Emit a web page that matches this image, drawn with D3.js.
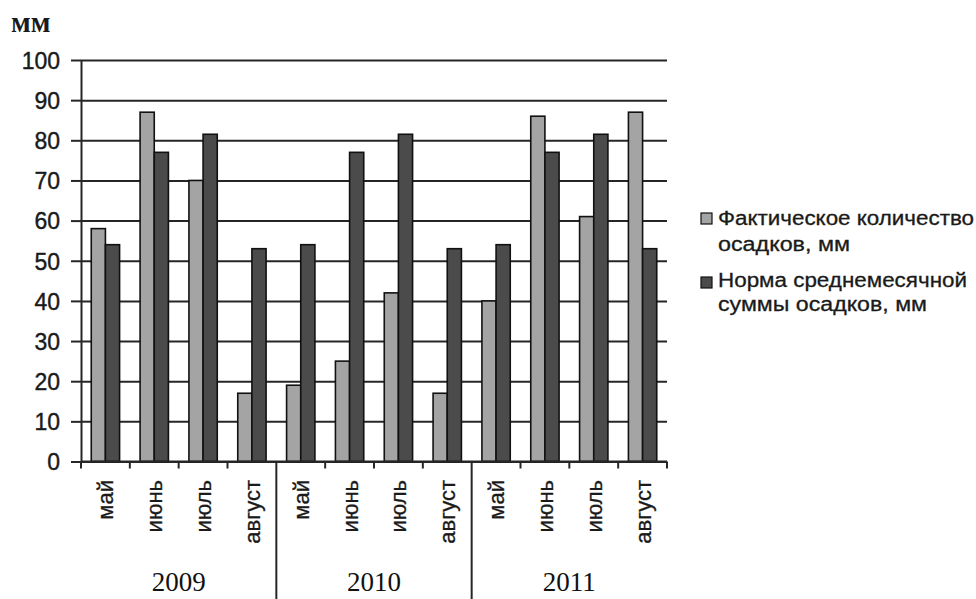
<!DOCTYPE html>
<html><head><meta charset="utf-8">
<script src="https://cdn.jsdelivr.net/npm/d3@7"></script>
<style>
html,body{margin:0;padding:0;background:#fff;}
svg{display:block;}
</style></head>
<body>
<svg id="chart" width="976" height="599"></svg>
<script>
const months = ["май","июнь","июль","август","май","июнь","июль","август","май","июнь","июль","август"];
const years = ["2009","2010","2011"];
const factual = [58,87,70,17,19,25,42,17,40,86,61,87];
const norm = [54,77,81.5,53,54,77,81.5,53,54,77,81.5,53];
const seriesNames = ["Фактическое количество|осадков, мм","Норма среднемесячной|суммы осадков, мм"];
const yTicks = [0,10,20,30,40,50,60,70,80,90,100];
const unitLabel = "мм";

(function(){
const svg = d3.select("#chart");
const mLeft = 81, mRight = 667, mTop = 60, mBottom = 461.5;
const plotW = mRight - mLeft;
const colors = ["#a4a4a4","#4b4b4b"];
const sans = "'Liberation Sans',Arial,sans-serif";
const serif = "'Liberation Serif','Times New Roman',serif";

const idx = months.map((m,i)=>i);
const x = d3.scaleBand().domain(idx).range([mLeft,mRight]).paddingInner(0.42).paddingOuter(0.21);
const xFull = d3.scaleBand().domain(idx).range([mLeft,mRight]).padding(0);
const x1 = d3.scaleBand().domain([0,1]).range([0,x.bandwidth()]).padding(0);
const y = d3.scaleLinear().domain([0,100]).range([mBottom,mTop]);

// gridlines
svg.append("g").attr("transform",`translate(${mLeft},0)`)
  .call(d3.axisLeft(y).tickValues(yTicks).tickSize(-plotW).tickFormat(""))
  .call(g=>g.select(".domain").remove())
  .call(g=>g.selectAll("line").attr("stroke","#262626").attr("stroke-width",2));

// y axis
svg.append("g").attr("transform",`translate(${mLeft},0)`)
  .call(d3.axisLeft(y).tickValues(yTicks).tickSize(10).tickSizeOuter(0).tickPadding(11))
  .call(g=>g.select(".domain").attr("stroke","#262626").attr("stroke-width",2))
  .call(g=>g.selectAll("line").attr("stroke","#262626").attr("stroke-width",2))
  .call(g=>g.selectAll("text").attr("font-family",sans)
     .attr("font-size",23).attr("fill","#1a1a1a").attr("stroke","#1a1a1a").attr("stroke-width",0.4)
     .attr("dy","0.36em"));

// bars
const groups = svg.append("g").selectAll("g").data(idx).join("g")
  .attr("transform",i=>`translate(${x(i)},0)`);
groups.selectAll("rect").data(i=>[factual[i],norm[i]].map((v,s)=>({v,s}))).join("rect")
  .attr("x",d=>x1(d.s)).attr("width",x1.bandwidth())
  .attr("y",d=>y(d.v)).attr("height",d=>y(0)-y(d.v))
  .attr("fill",d=>colors[d.s]).attr("stroke","#111").attr("stroke-width",1.6);

// x axis line
svg.append("line").attr("x1",mLeft).attr("x2",mRight).attr("y1",y(0)).attr("y2",y(0))
  .attr("stroke","#262626").attr("stroke-width",2);
// category boundary ticks
const bounds = idx.map(i=>xFull(i)).concat([mRight]);
svg.append("g").selectAll("line").data(bounds.map((b,k)=>({b,k}))).join("line")
  .attr("x1",d=>d.b).attr("x2",d=>d.b).attr("y1",y(0))
  .attr("y2",d=>(d.k===4||d.k===8)?599:y(0)+7)
  .attr("stroke","#262626").attr("stroke-width",2);

// month labels
svg.append("g").selectAll("text").data(idx).join("text")
  .attr("transform",i=>`translate(${xFull(i)+xFull.bandwidth()/2},480) rotate(-90)`)
  .attr("text-anchor","end").attr("dy","0.36em")
  .attr("font-family",sans).attr("font-size",22)
  .attr("fill","#1a1a1a").attr("stroke","#1a1a1a").attr("stroke-width",0.3)
  .text(i=>months[i]);

// year labels
svg.append("g").selectAll("text").data(years).join("text")
  .attr("x",(yv,k)=>(xFull(k*4)+xFull(k*4+3)+xFull.bandwidth())/2)
  .attr("y",591).attr("text-anchor","middle")
  .attr("font-family",serif).attr("font-size",27)
  .attr("fill","#111").text(d=>d);

// unit label
svg.append("text").attr("x",11).attr("y",32)
  .attr("font-family",serif).attr("font-size",29)
  .attr("font-weight","bold").attr("fill","#1a1a1a").text(unitLabel);

// legend
const legY = [213, 277];
const lineBase = [[225,251],[287,311]];
const lineLen = [[256,132],[249,209]];
seriesNames.forEach((name,s)=>{
  svg.append("rect").attr("x",701).attr("y",legY[s]).attr("width",11).attr("height",11)
    .attr("fill",colors[s]).attr("stroke","#111").attr("stroke-width",1.2);
  name.split("|").forEach((ln,k)=>{
    svg.append("text").attr("x",718).attr("y",lineBase[s][k])
      .attr("font-family",sans).attr("font-size",20)
      .attr("fill","#1a1a1a").attr("stroke","#1a1a1a").attr("stroke-width",0.3)
      .attr("textLength",lineLen[s][k]).attr("lengthAdjust","spacingAndGlyphs")
      .text(ln);
  });
});
})();
</script>
</body></html>
